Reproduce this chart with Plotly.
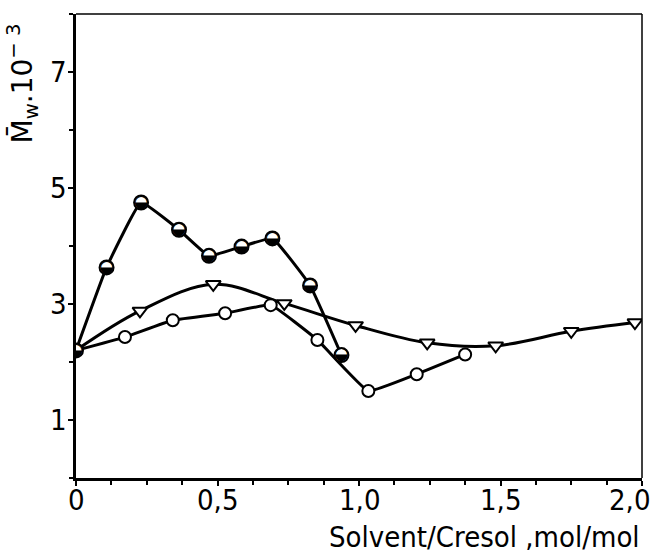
import plotly.graph_objects as go

# Data
x_half = [0, 0.108, 0.230, 0.364, 0.470, 0.585, 0.694, 0.827, 0.938]
y_half = [2.2, 3.63, 4.75, 4.28, 3.83, 3.99, 4.13, 3.32, 2.12]
x_tri = [0, 0.226, 0.485, 0.736, 0.988, 1.241, 1.483, 1.750, 1.975]
y_tri = [2.2, 2.88, 3.34, 3.01, 2.63, 2.33, 2.28, 2.53, 2.68]
x_open = [0, 0.173, 0.342, 0.527, 0.688, 0.853, 1.033, 1.204, 1.375]
y_open = [2.2, 2.43, 2.72, 2.84, 2.98, 2.38, 1.50, 1.79, 2.13]

x_tickvals = [0, 0.5, 1.0, 1.5, 2.0]
x_ticktext = ["0", "0,5", "1,0", "1,5", "2,0"]
y_tickvals = [1, 3, 5, 7]
y_ticktext = ["1", "3", "5", "7"]

LW = 3
fig = go.Figure()
# lines
fig.add_trace(go.Scatter(x=x_tri, y=y_tri, mode="lines",
                         line=dict(color="black", width=LW, shape="spline", smoothing=1.0)))
fig.add_trace(go.Scatter(x=x_open, y=y_open, mode="lines",
                         line=dict(color="black", width=LW, shape="spline", smoothing=0.3)))
fig.add_trace(go.Scatter(x=x_half, y=y_half, mode="lines",
                         line=dict(color="black", width=LW, shape="spline", smoothing=0.3)))
# markers
fig.add_trace(go.Scatter(x=x_tri[1:], y=y_tri[1:], mode="markers",
                         marker=dict(symbol="triangle-down", size=13, color="white",
                                     line=dict(color="black", width=2))))
fig.add_trace(go.Scatter(x=x_open[1:], y=y_open[1:], mode="markers",
                         marker=dict(symbol="circle", size=12, color="white",
                                     line=dict(color="black", width=2))))
fig.add_trace(go.Scatter(x=x_half, y=y_half, mode="markers",
                         marker=dict(symbol="circle", size=14, color="white",
                                     line=dict(color="black", width=2))))
fig.add_trace(go.Scatter(x=x_half, y=y_half, mode="text",
                         text=["\u25D2"] * len(x_half), textposition="middle center",
                         textfont=dict(family="DejaVu Sans", size=17, color="black")))

labfont = dict(family="DejaVu Sans Condensed, sans-serif", size=29, color="black")
annotations = []
for i, (v, t) in enumerate(zip(x_tickvals, x_ticktext)):
    last = i == len(x_tickvals) - 1
    annotations.append(dict(text=t, xref="x", yref="paper", x=v, y=-0.047,
                            xanchor="right" if last else "center", xshift=10 if last else 0,
                            yanchor="middle", showarrow=False, font=labfont))
for v, t in zip(y_tickvals, y_ticktext):
    annotations.append(dict(text=t, xref="paper", yref="y", x=-0.012, y=v,
                            xanchor="right", yanchor="middle", showarrow=False,
                            font=labfont))
annotations += [
    dict(text="Solvent/Cresol ,mol/mol", xref="paper", yref="paper",
         x=1.0, y=-0.127, xanchor="right", yanchor="middle", showarrow=False,
         font=dict(family="DejaVu Sans Condensed, sans-serif", size=29, color="black")),
    dict(text="M\u0304<sub>w</sub>.10<sup>\u2212 3</sup>", xref="paper", yref="paper",
         x=-0.094, y=0.85, xanchor="center", yanchor="middle", textangle=-90,
         showarrow=False,
         font=dict(family="DejaVu Sans, sans-serif", size=28, color="black")),
]

fig.update_layout(
    width=655, height=556,
    margin=dict(l=76, r=13, t=14, b=78),
    plot_bgcolor="white", paper_bgcolor="white",
    showlegend=False,
    xaxis=dict(range=[0, 2.0], showgrid=False, zeroline=False,
               showline=True, linecolor="black", linewidth=3,
               tickvals=x_tickvals, showticklabels=False, ticks="outside",
               ticklen=5, tickwidth=2, tickcolor="black",
               minor=dict(dtick=0.125, tick0=0, ticks="outside", ticklen=4,
                          tickwidth=1.5, tickcolor="black")),
    yaxis=dict(range=[0, 8], showgrid=False, zeroline=False,
               showline=True, linecolor="black", linewidth=3,
               tickvals=y_tickvals, showticklabels=False, ticks="outside",
               ticklen=5, tickwidth=2, tickcolor="black",
               minor=dict(dtick=1, tick0=0, ticks="outside", ticklen=4,
                          tickwidth=1.5, tickcolor="black")),
    shapes=[
        dict(type="line", xref="paper", yref="paper", x0=0, x1=1, y0=1, y1=1,
             line=dict(color="black", width=1.5)),
        dict(type="line", xref="paper", yref="paper", x0=1, x1=1, y0=0, y1=1,
             line=dict(color="black", width=1.5)),
    ],
    annotations=annotations,
)
fig.write_html("out.html")
